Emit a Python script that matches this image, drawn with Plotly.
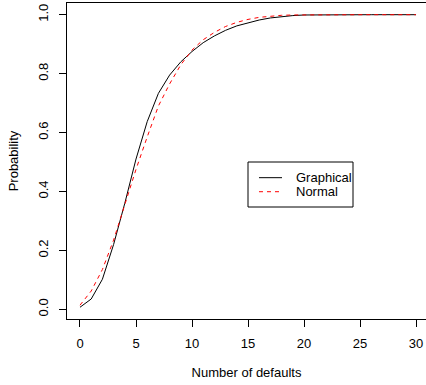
import plotly.graph_objects as go

defaults = list(range(0, 31))
graphical = [0.007, 0.035, 0.102, 0.22, 0.36, 0.51, 0.637, 0.733, 0.795, 0.84,
             0.875, 0.905, 0.928, 0.947, 0.962, 0.973, 0.982, 0.989, 0.994, 0.997,
             0.999, 0.9995, 1.0, 1.0, 1.0, 1.0, 1.0, 1.0, 1.0, 1.0, 1.0]
normal = [0.014, 0.062, 0.135, 0.235, 0.355, 0.475, 0.585, 0.69, 0.765, 0.83,
          0.88, 0.915, 0.94, 0.96, 0.974, 0.984, 0.991, 0.995, 0.998, 0.999,
          0.9995, 1.0, 1.0, 1.0, 1.0, 1.0, 1.0, 1.0, 1.0, 1.0, 1.0]
x_ticks = [0, 5, 10, 15, 20, 25, 30]
y_ticks = [0.0, 0.2, 0.4, 0.6, 0.8, 1.0]
y_tick_labels = ["0.0", "0.2", "0.4", "0.6", "0.8", "1.0"]
series_names = ["Graphical", "Normal"]
series_colors = ["black", "red"]
series_dash = ["solid", "4px,4px"]

FONT = "Liberation Sans, Arial, Helvetica, sans-serif"

fig = go.Figure()
for name, ys, col, dash in zip(series_names, [graphical, normal], series_colors, series_dash):
    fig.add_trace(go.Scatter(x=defaults, y=ys, mode="lines", name=name,
                             line=dict(color=col, width=1, dash=dash),
                             showlegend=False))

# R-style legend box (paper coordinates of the plot area)
fig.add_shape(type="rect", xref="paper", yref="paper",
              x0=0.5042, x1=0.7967, y0=0.3544, y1=0.4968,
              line=dict(color="black", width=1), fillcolor="white", layer="above")
legend_rows_y = [0.4472, 0.4028]
for name, col, dash, ly in zip(series_names, series_colors, series_dash, legend_rows_y):
    fig.add_shape(type="line", xref="paper", yref="paper",
                  x0=0.5348, x1=0.5989, y0=ly, y1=ly,
                  line=dict(color=col, width=1, dash=dash), layer="above")
    fig.add_annotation(text=name, xref="paper", yref="paper", x=0.6315, y=ly,
                       xanchor="left", yanchor="middle", showarrow=False,
                       font=dict(family=FONT, size=13, color="black"))

fig.update_layout(
    width=426, height=385,
    margin=dict(l=67, r=0, t=3, b=66),
    paper_bgcolor="white", plot_bgcolor="white",
    font=dict(family=FONT, size=13, color="black"),
    showlegend=False,
    xaxis=dict(range=[-1.16, 30.89], tickmode="array", tickvals=x_ticks,
               ticks="outside", ticklen=7, tickcolor="black", tickwidth=1,
               ticklabelstandoff=5, tickfont=dict(family=FONT, size=13),
               showline=True, linecolor="black", linewidth=1, mirror=True,
               showgrid=False, zeroline=False,
               title=dict(text="Number of defaults", standoff=18,
                          font=dict(family=FONT, size=13))),
    yaxis=dict(range=[-0.0329, 1.0397], tickmode="array", tickvals=y_ticks,
               ticktext=y_tick_labels, tickangle=-90,
               ticks="outside", ticklen=7, tickcolor="black", tickwidth=1,
               ticklabelstandoff=6, tickfont=dict(family=FONT, size=13),
               showline=True, linecolor="black", linewidth=1, mirror=False,
               showgrid=False, zeroline=False,
               title=dict(text="Probability", standoff=14,
                          font=dict(family=FONT, size=13))),
)

fig.write_html("out.html", config={"displayModeBar": False},
               post_script="document.body.style.margin='0';")
